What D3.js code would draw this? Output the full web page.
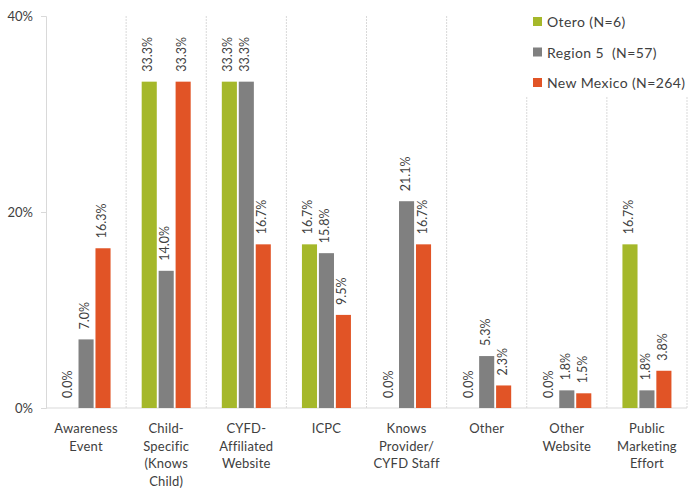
<!DOCTYPE html>
<html><head><meta charset="utf-8">
<script src="https://cdn.jsdelivr.net/npm/d3@7"></script>
<style>body{margin:0;background:#fff}svg{display:block}text{white-space:pre}</style>
</head><body>
<svg id="c" width="688" height="489"></svg>
<script>
const categories = [["Awareness","Event"],["Child-","Specific","(Knows","Child)"],["CYFD-","Affiliated","Website"],["ICPC"],["Knows","Provider/","CYFD Staff"],["Other"],["Other","Website"],["Public","Marketing","Effort"]];
const seriesNames = ["Otero (N=6)","Region 5  (N=57)","New Mexico (N=264)"];
const otero = [0.0,33.3,33.3,16.7,0.0,0.0,0.0,16.7];
const region5 = [7.0,14.0,33.3,15.8,21.1,5.3,1.8,1.8];
const newMexico = [16.3,33.3,16.7,9.5,16.7,2.3,1.5,3.8];
const yTicks = [0,20,40];
const colors = ["#A5B82A","#808080","#E15426"];

(function(){
const svg = d3.select("#c");
const font = "Lato, 'Open Sans', sans-serif";
const L=46, R=687, T=16, B=408;
const x0 = d3.scaleBand().domain(d3.range(categories.length)).range([L,R]).paddingInner(0).paddingOuter(0);
const x1 = d3.scaleBand().domain([0,1,2]).range([x0.bandwidth()/2-24.5, x0.bandwidth()/2+24.5]).paddingInner(0.11);
const y = d3.scaleLinear().domain([0,40]).range([B,T]);
const series=[otero,region5,newMexico];

// vertical gridlines (group separators)
svg.append("g").selectAll("line").data(d3.range(1,categories.length+1)).join("line")
 .attr("x1",d=>x0(d)??R).attr("x2",d=>x0(d)??R).attr("y1",T).attr("y2",B)
 .attr("stroke","#d9d9d9").attr("stroke-width",1).attr("stroke-dasharray","2,1");

// y axis
const ya = svg.append("g").attr("transform",`translate(${L},0)`)
 .call(d3.axisLeft(y).tickValues(yTicks).tickFormat(d=>d+"%").tickSize(5).tickPadding(8));
ya.select(".domain").attr("stroke","#d9d9d9");
ya.selectAll(".tick line").attr("stroke","#d9d9d9");
ya.selectAll("text").attr("font-family",font).attr("font-size",13).attr("fill","#404040");

// baseline
svg.append("line").attr("x1",L).attr("x2",R).attr("y1",B).attr("y2",B).attr("stroke","#d9d9d9");

// bars
const g = svg.append("g").selectAll("g").data(categories).join("g").attr("transform",(d,i)=>`translate(${x0(i)},0)`);
g.each(function(d,i){
  const gg=d3.select(this);
  series.forEach((s,j)=>{
    const v=s[i];
    gg.append("rect").attr("x",x1(j)).attr("width",x1.bandwidth()).attr("y",y(v)).attr("height",B-y(v)).attr("fill",colors[j]);
    gg.append("text").attr("transform",`translate(${x1(j)+x1.bandwidth()/2+3},${y(v)-10}) rotate(-90)`)
      .attr("font-family",font).attr("font-size",12.5).attr("fill","#404040").text(v.toFixed(1)+"%");
  });
  const t=gg.append("text").attr("text-anchor","middle").attr("font-family",font).attr("font-size",13).attr("letter-spacing",0.2).attr("fill","#404040");
  d.forEach((line,k)=>t.append("tspan").attr("x",x0.bandwidth()/2).attr("y",433+k*17.7).text(line));
});

// legend
const lg = svg.append("g");
lg.append("rect").attr("x",525).attr("y",0).attr("width",163).attr("height",97).attr("fill","#fff");
seriesNames.forEach((n,i)=>{
  const yy=22+i*30.5;
  lg.append("rect").attr("x",533).attr("y",yy-5).attr("width",9).attr("height",9).attr("fill",colors[i]);
  lg.append("text").attr("x",547).attr("y",yy+5).attr("font-family",font).attr("font-size",14).attr("letter-spacing",0.4).attr("fill","#404040").text(n);
});
})();
</script>
</body></html>
